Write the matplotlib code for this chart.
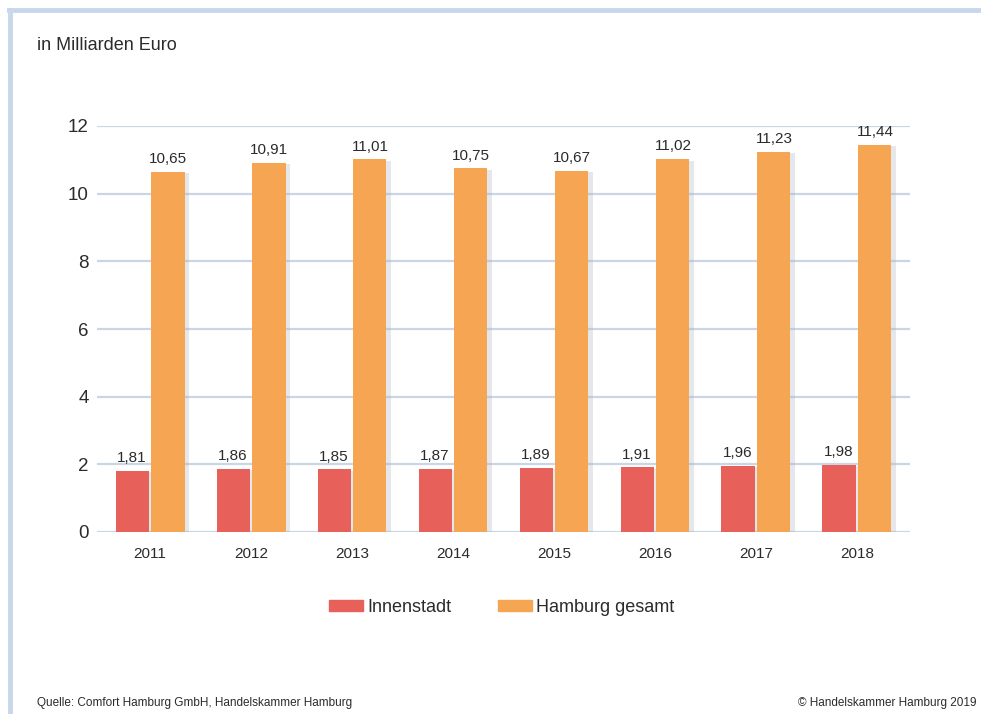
import matplotlib
matplotlib.use("Agg")
import matplotlib.pyplot as plt
import matplotlib.patheffects as pe
from matplotlib.lines import Line2D
from matplotlib.patches import Patch
import numpy as np

years = ["2011", "2012", "2013", "2014", "2015", "2016", "2017", "2018"]
innenstadt = [1.81, 1.86, 1.85, 1.87, 1.89, 1.91, 1.96, 1.98]
hamburg = [10.65, 10.91, 11.01, 10.75, 10.67, 11.02, 11.23, 11.44]
series_names = ["Innenstadt", "Hamburg gesamt"]
y_ticks = [0, 2, 4, 6, 8, 10, 12]

RED = "#E8605A"
ORANGE = "#F6A653"
GRID = "#CAD6E6"
TXT = "#2b2b2b"
FONT = ["Liberation Sans Narrow", "Liberation Sans", "DejaVu Sans"]

plt.rcParams["font.family"] = FONT

W, H = 981, 714
fig = plt.figure(figsize=(W / 100, H / 100), dpi=100)
ax = fig.add_axes([97 / W, (H - 532) / H, (910 - 97) / W, (532 - 126) / H])

x = np.arange(len(years))
bw = 0.327
off = 0.178
shadow = [pe.SimplePatchShadow(offset=(3, -1), shadow_rgbFace="#a9b1ba", alpha=0.3), pe.Normal()]

b1 = ax.bar(x - off, innenstadt, bw, color=RED, zorder=3)
b2 = ax.bar(x + off, hamburg, bw, color=ORANGE, zorder=3)
for b in list(b1) + list(b2):
    b.set_path_effects(shadow)

for xi, v in zip(x - off, innenstadt):
    ax.text(xi, v + 0.17, f"{v:.2f}".replace(".", ","), ha="center", va="bottom",
            fontsize=11, color=TXT, zorder=4)
for xi, v in zip(x + off, hamburg):
    ax.text(xi, v + 0.17, f"{v:.2f}".replace(".", ","), ha="center", va="bottom",
            fontsize=11, color=TXT, zorder=4, clip_on=False)

ax.set_xlim(-0.525, 7.525)
ax.set_ylim(0, 12)
ax.set_yticks(y_ticks)
ax.set_yticklabels([str(t) for t in y_ticks], fontsize=13.5, color=TXT)
ax.set_xticks(x)
ax.set_xticklabels(years, fontsize=11, color=TXT)
ax.tick_params(axis="both", length=0)
ax.tick_params(axis="y", pad=6)
ax.tick_params(axis="x", pad=11)
for s in ax.spines.values():
    s.set_visible(False)
ax.grid(axis="y", color=GRID, lw=1.6, zorder=0)
ax.set_axisbelow(True)

handles = [Patch(color=RED), Patch(color=ORANGE)]
fig.legend(handles, series_names, loc="center", bbox_to_anchor=(502 / W, (H - 607) / H),
           ncol=2, frameon=False, fontsize=13, handlelength=1.85, handleheight=0.55,
           handletextpad=0.25, columnspacing=2.6, labelcolor=TXT)

fig.text(37 / W, (H - 45) / H, "in Milliarden Euro", fontsize=13, color=TXT, va="center")
fig.text(37 / W, (H - 703) / H, "Quelle: Comfort Hamburg GmbH, Handelskammer Hamburg",
         fontsize=8.5, color=TXT, va="center")
fig.text(977 / W, (H - 703) / H, "\u00a9 Handelskammer Hamburg 2019",
         fontsize=8.5, color=TXT, va="center", ha="right")

# frame lines (left and top)
fig.add_artist(Line2D([10 / W, 10 / W], [0, (H - 10) / H], color="#C8D7EA", lw=3.5))
fig.add_artist(Line2D([8.5 / W, 1], [(H - 10) / H, (H - 10) / H], color="#C8D7EA", lw=3.5))

fig.savefig("out.png", dpi=100)
